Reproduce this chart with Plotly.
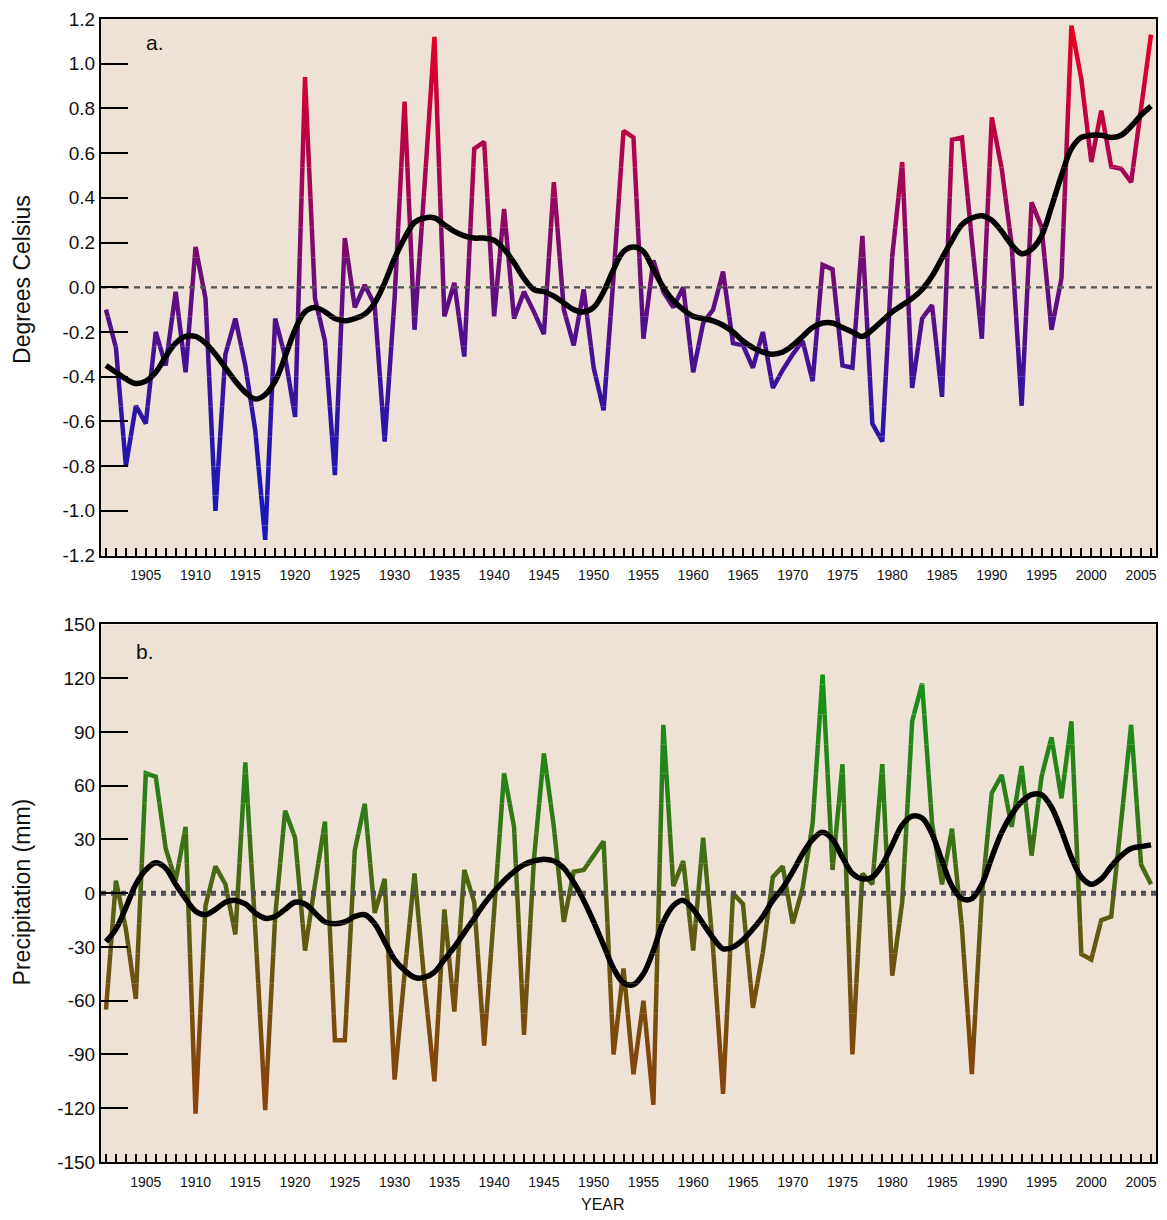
import plotly.graph_objects as go

years = list(range(1901, 2007))

temp_anom = [
    -0.10, -0.27, -0.80, -0.53, -0.61, -0.20, -0.35, -0.02, -0.38, 0.18,
    -0.05, -1.00, -0.30, -0.14, -0.35, -0.64, -1.13, -0.14, -0.31, -0.58,
    0.94, -0.05, -0.24, -0.84, 0.22, -0.09, 0.01, -0.08, -0.69, -0.05,
    0.83, -0.19, 0.45, 1.12, -0.13, 0.02, -0.31, 0.62, 0.65, -0.13,
    0.35, -0.14, -0.02, -0.11, -0.21, 0.47, -0.10, -0.26, -0.01, -0.36,
    -0.55, 0.05, 0.70, 0.67, -0.23, 0.12, -0.02, -0.09, 0.00, -0.38,
    -0.16, -0.10, 0.07, -0.25, -0.26, -0.36, -0.20, -0.45, -0.37, -0.30,
    -0.24, -0.42, 0.10, 0.08, -0.35, -0.36, 0.23, -0.61, -0.69, 0.14,
    0.56, -0.45, -0.14, -0.08, -0.49, 0.66, 0.67, 0.21, -0.23, 0.76,
    0.53, 0.19, -0.53, 0.38, 0.27, -0.19, 0.04, 1.17, 0.93, 0.56,
    0.79, 0.54, 0.53, 0.47, 0.80, 1.13,
]

temp_smooth = [
    -0.35, -0.38, -0.41, -0.43, -0.42, -0.38, -0.31, -0.25, -0.22, -0.22,
    -0.25, -0.30, -0.36, -0.42, -0.47, -0.50, -0.48, -0.42, -0.31, -0.19,
    -0.11, -0.09, -0.11, -0.14, -0.15, -0.14, -0.12, -0.07, 0.02, 0.13,
    0.22, 0.29, 0.31, 0.31, 0.28, 0.25, 0.23, 0.22, 0.22, 0.21,
    0.17, 0.11, 0.04, -0.01, -0.02, -0.04, -0.07, -0.10, -0.11, -0.09,
    -0.02, 0.08, 0.16, 0.18, 0.16, 0.08, 0.00, -0.06, -0.10, -0.13,
    -0.14, -0.15, -0.17, -0.20, -0.24, -0.27, -0.29, -0.30, -0.29, -0.26,
    -0.22, -0.18, -0.16, -0.16, -0.18, -0.20, -0.22, -0.19, -0.15, -0.11,
    -0.08, -0.05, -0.01, 0.05, 0.13, 0.21, 0.28, 0.31, 0.32, 0.30,
    0.25, 0.19, 0.15, 0.17, 0.23, 0.36, 0.50, 0.62, 0.67, 0.68,
    0.68, 0.67, 0.68, 0.72, 0.77, 0.81,
]

precip_anom = [
    -65, 7, -20, -59, 67, 65, 25, 7, 37, -123,
    -7, 15, 5, -23, 73, -20, -121, -13, 46, 31,
    -32, 5, 40, -82, -82, 24, 50, -11, 8, -104,
    -45, 11, -50, -105, -9, -66, 13, -5, -85, -10,
    67, 37, -79, 19, 78, 37, -16, 12, 13, 21,
    29, -90, -42, -101, -60, -118, 94, 4, 18, -32,
    31, -31, -112, 0, -6, -64, -33, 9, 15, -17,
    3, 39, 122, 13, 72, -90, 11, 5, 72, -46,
    -5, 96, 117, 39, 5, 36, -19, -101, -1, 56,
    66, 37, 71, 21, 65, 87, 53, 96, -34, -37,
    -15, -13, 40, 94, 16, 5,
]

precip_smooth = [
    -27, -20, -8, 5, 13, 17, 14, 5, -3, -10,
    -12, -9, -5, -4, -6, -11, -14, -13, -9, -5,
    -6, -11, -16, -17, -16, -13, -12, -17, -27, -37,
    -43, -47, -47, -44, -37, -30, -22, -14, -6, 1,
    7, 12, 16, 18, 19, 18, 14, 6, -4, -16,
    -29, -42, -50, -51, -45, -32, -16, -7, -4, -9,
    -17, -25, -31, -30, -26, -20, -13, -4, 3, 12,
    22, 30, 34, 30, 20, 11, 8, 9, 16, 27,
    38, 43, 42, 33, 18, 4, -3, -3, 5, 20,
    34, 44, 51, 55, 55, 48, 35, 20, 9, 5,
    8, 15, 21, 25, 26, 27,
]

year_ticks = list(range(1905, 2006, 5))
temp_ticks = [-1.2, -1.0, -0.8, -0.6, -0.4, -0.2, 0.0, 0.2, 0.4, 0.6, 0.8, 1.0, 1.2]
temp_tick_labels = ["-1.2", "-1.0", "-0.8", "-0.6", "-0.4", "-0.2", "0.0",
                    "0.2", "0.4", "0.6", "0.8", "1.0", "1.2"]
precip_ticks = [-150, -120, -90, -60, -30, 0, 30, 60, 90, 120, 150]
precip_tick_labels = ["-150", "-120", "-90", "-60", "-30", "0",
                      "30", "60", "90", "120", "150"]

# ---------------------------------------------------------------- styling
W, H = 1151, 1204
ML, MR, MT, MB = 93, 1, 10, 50
PH = H - MT - MB            # plot-area height in px (1144)
A_TOP, A_BOT = 0, 537       # panel a, px from plot-area top
B_TOP, B_BOT = 606, PH      # panel b
NBANDS = 18                 # colour bands (each >= 1/20 of panel height)
font_family = "Arial, Liberation Sans, sans-serif"
BG = "rgb(238,226,214)"


def lerp(c1, c2, t):
    return tuple(c1[i] + (c2[i] - c1[i]) * t for i in range(3))


def grad(stops, t):
    t = max(0.0, min(1.0, t))
    for (t0, c0), (t1, c1) in zip(stops[:-1], stops[1:]):
        if t <= t1:
            return lerp(c0, c1, (t - t0) / (t1 - t0) if t1 > t0 else 0)
    return stops[-1][1]


def rgb(c):
    return "rgb(%d,%d,%d)" % tuple(int(round(v)) for v in c)


temp_stops = [(0.0, (22, 25, 190)), (0.25, (45, 20, 165)), (0.45, (88, 15, 132)),
              (0.7, (165, 5, 85)), (1.0, (232, 0, 36))]
precip_stops = [(0.0, (140, 66, 10)), (0.35, (105, 85, 15)), (0.5, (80, 98, 18)),
                (0.7, (45, 125, 22)), (1.0, (20, 148, 22))]


def dom(px_top, px_bot):
    return [(PH - px_bot) / PH, (PH - px_top) / PH]


fig = go.Figure()
layout_axes = {}
axis_id = [0]


def add_panel(xname, vals, smooth, vmin, vmax, ptop, pbot,
              stops, cmin, cmax, zero_style, line_w):
    span = pbot - ptop
    for k in range(NBANDS):
        p0 = ptop + round(k * span / NBANDS)
        p1 = ptop + round((k + 1) * span / NBANDS)
        v_hi = vmax - (p0 - ptop) / span * (vmax - vmin)
        v_lo = vmax - (p1 - ptop) / span * (vmax - vmin)
        vc = (v_hi + v_lo) / 2
        col = rgb(grad(stops, (vc - cmin) / (cmax - cmin)))
        axis_id[0] += 1
        n = axis_id[0]
        yref = "y" if n == 1 else "y%d" % n
        key = "yaxis" if n == 1 else "yaxis%d" % n
        layout_axes[key] = dict(domain=dom(p0, p1), range=[v_lo, v_hi],
                                anchor=xname, visible=False, fixedrange=True)
        fig.add_trace(go.Scatter(x=years, y=vals, mode="lines",
                                 line=dict(color=col, width=line_w, simplify=False),
                                 xaxis=xname, yaxis=yref,
                                 showlegend=False, hoverinfo="skip"))
        fig.add_trace(go.Scatter(x=[1900.5, 2006.5], y=[0, 0], mode="lines",
                                 line=zero_style, xaxis=xname, yaxis=yref,
                                 showlegend=False, hoverinfo="skip"))
        fig.add_trace(go.Scatter(x=years, y=smooth, mode="lines",
                                 line=dict(color="black", width=5.5, shape="spline",
                                           simplify=False),
                                 xaxis=xname, yaxis=yref,
                                 showlegend=False, hoverinfo="skip"))


add_panel("x", temp_anom, temp_smooth, -1.2, 1.2, A_TOP, A_BOT,
          temp_stops, -1.15, 1.17,
          dict(color="#555555", width=2.5, dash="6px,5px"), 4.5)
add_panel("x2", precip_anom, precip_smooth, -150, 150, B_TOP, B_BOT,
          precip_stops, -120, 120,
          dict(color="#4a4a55", width=5, dash="5px,5px"), 4.5)

main_a = axis_id[0] + 1
main_b = axis_id[0] + 2

xaxis_common = dict(
    range=[1900.5, 2006.5], tickvals=year_ticks, ticks="inside", ticklen=8,
    tickwidth=1.5, tickcolor="black", ticklabelstandoff=6,
    minor=dict(dtick=1, tick0=1901, ticks="inside", ticklen=8, tickwidth=1.5,
               tickcolor="black"),
    showline=True, linecolor="black", linewidth=2, mirror=True,
    showgrid=False, zeroline=False, fixedrange=True,
    tickfont=dict(family=font_family, size=14, color="#111"),
)

yaxis_common = dict(
    ticks="inside", ticklen=27, tickwidth=1.5, tickcolor="black",
    showline=True, linecolor="black", linewidth=2, mirror=True,
    showgrid=False, zeroline=False, fixedrange=True,
    tickfont=dict(family=font_family, size=19, color="#111"),
)

layout_axes["yaxis%d" % main_a] = dict(
    domain=dom(A_TOP, A_BOT), anchor="x", range=[-1.2, 1.2],
    tickvals=temp_ticks, ticktext=temp_tick_labels, **yaxis_common)
layout_axes["yaxis%d" % main_b] = dict(
    domain=dom(B_TOP, B_BOT), anchor="x2", range=[-150, 150],
    tickvals=precip_ticks, ticktext=precip_tick_labels, **yaxis_common)
layout_axes["xaxis"] = dict(domain=[0, 1], anchor="y%d" % main_a, **xaxis_common)
layout_axes["xaxis2"] = dict(domain=[0, 1], anchor="y%d" % main_b, **xaxis_common)

# main subplots (drawn last, so frame and ticks stay on top)
fig.add_trace(go.Scatter(x=[None], y=[None], xaxis="x", yaxis="y%d" % main_a,
                         showlegend=False, hoverinfo="skip"))
fig.add_trace(go.Scatter(x=[None], y=[None], xaxis="x2", yaxis="y%d" % main_b,
                         showlegend=False, hoverinfo="skip"))

PW = W - ML - MR


def px_x(page_x):
    return (page_x - 8 - ML) / PW


def px_y(page_y):
    return (MT + PH - (page_y - 8)) / PH


fig.update_layout(
    width=W, height=H,
    margin=dict(l=ML, r=MR, t=MT, b=MB),
    paper_bgcolor="white",
    plot_bgcolor="rgba(0,0,0,0)",
    shapes=[
        dict(type="rect", xref="paper", yref="paper", x0=0, x1=1,
             y0=dom(A_TOP, A_BOT)[0], y1=dom(A_TOP, A_BOT)[1],
             fillcolor=BG, line=dict(width=0), layer="below"),
        dict(type="rect", xref="paper", yref="paper", x0=0, x1=1,
             y0=dom(B_TOP, B_BOT)[0], y1=dom(B_TOP, B_BOT)[1],
             fillcolor=BG, line=dict(width=0), layer="below"),
    ],
    annotations=[
        dict(text="Degrees Celsius", xref="paper", yref="paper",
             x=px_x(22), y=px_y(279), textangle=-90, showarrow=False,
             xanchor="center", yanchor="middle",
             font=dict(family=font_family, size=23, color="#111")),
        dict(text="Precipitation (mm)", xref="paper", yref="paper",
             x=px_x(22), y=px_y(892), textangle=-90, showarrow=False,
             xanchor="center", yanchor="middle",
             font=dict(family=font_family, size=23, color="#111")),
        dict(text="YEAR", xref="paper", yref="paper", x=px_x(604), y=px_y(1205),
             showarrow=False, xanchor="center", yanchor="middle",
             font=dict(family=font_family, size=16, color="#111")),
        dict(text="a.", xref="paper", yref="paper", x=px_x(155), y=px_y(42),
             showarrow=False, xanchor="center", yanchor="middle",
             font=dict(family=font_family, size=21, color="#111")),
        dict(text="b.", xref="paper", yref="paper", x=px_x(145), y=px_y(651),
             showarrow=False, xanchor="center", yanchor="middle",
             font=dict(family=font_family, size=21, color="#111")),
    ],
    **layout_axes,
)

fig.write_html("out.html")
